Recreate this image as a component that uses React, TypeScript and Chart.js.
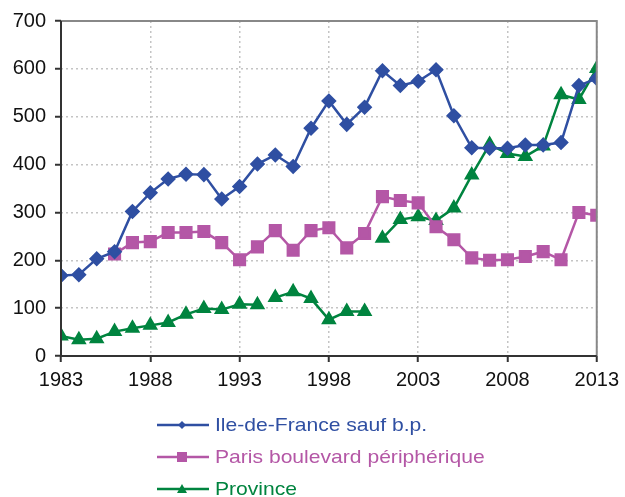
import React, { useEffect, useRef } from "react";
import { Chart, registerables } from "chart.js";

Chart.register(...registerables);

const years = [1983,1984,1985,1986,1987,1988,1989,1990,1991,1992,1993,1994,1995,1996,1997,1998,1999,2000,2001,2002,2003,2004,2005,2006,2007,2008,2009,2010,2011,2012,2013];
const ileDeFrance = [168,170,203,218,302,341,370,380,379,328,354,401,420,396,476,533,484,520,596,565,574,598,502,435,434,434,441,441,446,565,580];
const parisBP = [null,null,null,213,237,239,258,258,260,237,201,228,262,221,262,268,226,256,333,325,320,270,243,205,200,201,208,218,201,300,294];
const province = [42,34,36,51,58,64,70,87,99,97,108,107,122,134,120,76,93,93,246,285,291,283,309,378,442,423,417,439,546,536,601];
const provinceGapsAfter = [1994, 2000];
const seriesNames = ["Ile-de-France sauf b.p.", "Paris boulevard périphérique", "Province"];
const colors = ["#2F4FA2", "#B457A6", "#00843F"];
const FONT = "'Liberation Sans', Arial, sans-serif";

function pts(vals: (number | null)[]) {
  return years
    .map((y, i) => ({ x: y, y: vals[i] }))
    .filter((p) => p.y !== null);
}

const frame = {
  id: "frame",
  afterDraw(chart: any) {
    const { ctx, chartArea: a } = chart;
    ctx.save();
    ctx.lineWidth = 2;
    ctx.strokeStyle = "#888888";
    ctx.beginPath();
    ctx.moveTo(a.left, a.top);
    ctx.lineTo(a.right, a.top);
    ctx.lineTo(a.right, a.bottom);
    ctx.stroke();
    ctx.strokeStyle = "#333333";
    ctx.beginPath();
    ctx.moveTo(a.left, a.top);
    ctx.lineTo(a.left, a.bottom);
    ctx.lineTo(a.right, a.bottom);
    ctx.stroke();
    ctx.restore();
  },
};

function LegendMarker({ idx }: { idx: number }) {
  const c = colors[idx];
  let marker;
  if (idx === 0) marker = <polygon points="25,4 29,8 25,12 21,8" fill={c} />;
  else if (idx === 1) marker = <rect x="20" y="3" width="10" height="10" fill={c} />;
  else marker = <polygon points="25,3 30,12 20,12" fill={c} />;
  return (
    <svg width="52" height="16" style={{ position: "absolute", left: 0, top: 0 }}>
      <line x1="0" y1="8" x2="52" y2="8" stroke={c} strokeWidth="2.5" />
      {marker}
    </svg>
  );
}

export default function App() {
  const ref = useRef<HTMLCanvasElement | null>(null);
  useEffect(() => {
    const datasets: any[] = [
      { label: seriesNames[0], data: pts(ileDeFrance), borderColor: colors[0], backgroundColor: colors[0], pointStyle: "rectRot", pointRadius: 6, borderWidth: 2.5 },
      { label: seriesNames[1], data: pts(parisBP), borderColor: colors[1], backgroundColor: colors[1], pointStyle: "rect", pointRadius: 7.5, borderWidth: 2.5 },
      {
        label: seriesNames[2], data: pts(province), borderColor: colors[2], backgroundColor: colors[2], pointStyle: "triangle", pointRadius: 6.5, borderWidth: 2.5,
        segment: { borderColor: (c: any) => (provinceGapsAfter.includes(c.p0.parsed.x) ? "rgba(0,0,0,0)" : colors[2]) },
      },
    ];
    const chart = new Chart(ref.current!, {
      type: "line",
      data: { datasets },
      options: {
        animation: false,
        responsive: false,
        layout: { padding: { top: 21, right: 26, bottom: 0, left: 0 } },
        plugins: { legend: { display: false }, tooltip: { enabled: false } },
        elements: { line: { tension: 0 }, point: { borderWidth: 0, hoverRadius: 6 } },
        scales: {
          x: {
            type: "linear", min: 1983, max: 2013,
            afterFit: (s: any) => { s.height = 141; },
            border: { display: false, dash: [2, 3] },
            grid: { color: "#c4c4c4", lineWidth: 1.5, tickLength: 6, tickColor: "#333333", tickWidth: 2, tickBorderDash: [] } as any,
            ticks: { stepSize: 5, padding: 6, color: "#111111", font: { family: FONT, size: 20 }, callback: (v: any) => String(v), maxRotation: 0 },
          },
          y: {
            min: 0, max: 700,
            afterFit: (s: any) => { s.width = 61; },
            border: { display: false, dash: [2, 3] },
            grid: { color: "#c4c4c4", lineWidth: 1.5, tickLength: 6, tickColor: "#333333", tickWidth: 2, tickBorderDash: [] } as any,
            ticks: { stepSize: 100, padding: 9, color: "#111111", font: { family: FONT, size: 20 } },
          },
        },
      },
      plugins: [frame],
    });
    return () => chart.destroy();
  }, []);

  const rowTops = [413, 445, 477];
  return (
    <div style={{ position: "fixed", left: 0, top: 0, width: 625, height: 497, background: "#fff", overflow: "hidden" }}>
      <canvas ref={ref} width={625} height={497} style={{ position: "absolute", left: 0, top: 0 }} />
      {seriesNames.map((n, i) => (
        <div key={n} style={{ position: "absolute", left: 157, top: rowTops[i], height: 24 }}>
          <div style={{ position: "absolute", left: 0, top: 4, width: 52, height: 16 }}>
            <LegendMarker idx={i} />
          </div>
          <div style={{ position: "absolute", left: 58, top: 0, whiteSpace: "nowrap", fontFamily: FONT, fontSize: 19, lineHeight: "24px", color: colors[i], transform: "scaleX(1.11)", transformOrigin: "left center" }}>
            {n}
          </div>
        </div>
      ))}
    </div>
  );
}
